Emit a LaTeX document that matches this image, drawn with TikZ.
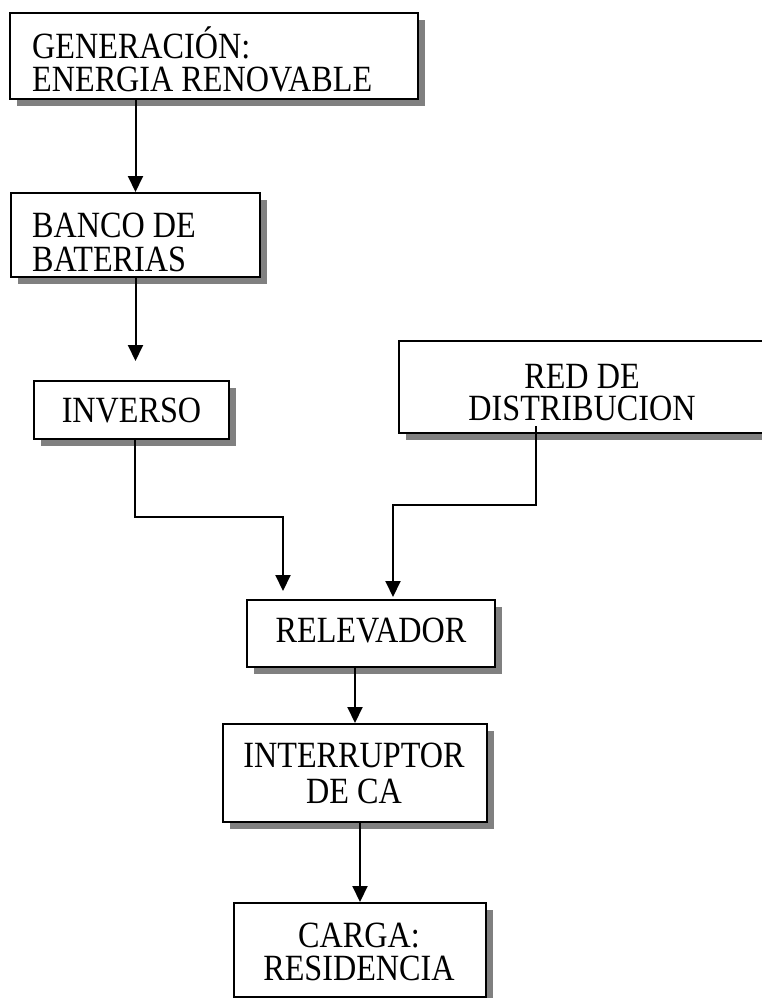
\documentclass[tikz,border=0pt]{standalone}
\usepackage{fontspec}
\setmainfont{Liberation Serif}
\newfontfamily\diagfont{Liberation Serif}[FakeStretch=0.87]
\usetikzlibrary{arrows.meta,shadows}
\definecolor{shadowgray}{HTML}{808080}
\begin{document}
\begin{tikzpicture}[x=1pt,y=-1pt,
  box/.style={draw=black, line width=2pt, fill=white, rectangle, inner sep=0pt,
    general shadow={fill=shadowgray, shadow xshift=7pt, shadow yshift=-7pt}},
  txt/.style={inner sep=0pt, text height=25pt, text depth=0pt,
    font=\diagfont\fontsize{37}{40}\selectfont},
  arr/.style={line width=2pt, -{Triangle[width=15pt,length=16pt]}}]
\useasboundingbox (0,0) rectangle (762,998);
% boxes
\node[box, minimum width=408pt, minimum height=86pt] (gen) at (214,56) {};
\node[box, minimum width=249pt, minimum height=84pt] (banco) at (135.5,235) {};
\node[box, minimum width=195pt, minimum height=58pt] (inverso) at (131.5,410) {};
\node[box, minimum width=366pt, minimum height=92pt] (red) at (582,387) {};
\node[box, minimum width=248pt, minimum height=67pt] (relev) at (371,633.5) {};
\node[box, minimum width=264pt, minimum height=98pt] (interr) at (355,773) {};
\node[box, minimum width=252pt, minimum height=94pt] (carga) at (360,950) {};
% texts
\node[txt, anchor=base west] (gen1) at (32,59) {GENERACIÓN:};
\node[txt, anchor=base west] (gen2) at (32,92) {ENERGIA RENOVABLE};
\node[txt, anchor=base west] (banco1) at (32,237) {BANCO DE};
\node[txt, anchor=base west] (banco2) at (32,271) {BATERIAS};
\node[txt, anchor=base] (inv1) at (131.5,422) {INVERSO};
\node[txt, anchor=base] (red1) at (582,388) {RED DE};
\node[txt, anchor=base] (red2) at (582,420) {DISTRIBUCION};
\node[txt, anchor=base] (rel1) at (371,642) {RELEVADOR};
\node[txt, anchor=base] (int1) at (354,767) {INTERRUPTOR};
\node[txt, anchor=base] (int2) at (354,803) {DE CA};
\node[txt, anchor=base] (car1) at (359,947) {CARGA:};
\node[txt, anchor=base] (car2) at (359,980) {RESIDENCIA};
% free ends
\coordinate (c1) at (135.5,361);
\coordinate (c2) at ([xshift=-88pt,yshift=8pt]relev.north);
\coordinate (c3) at ([xshift=22pt,yshift=2pt]relev.north);
% connectors
\draw[arr] (gen.south -| banco.north) -- (banco.north);
\draw[arr] (banco.south) -- (c1);
\draw[arr] ([xshift=3.5pt]inverso.south) -- ++(0,77) -| (c2);
\draw[arr] ([xshift=-46pt,yshift=8pt]red.south) -- ++(0,79) -| (c3);
\draw[arr] (relev.south -| interr.north) -- (interr.north);
\draw[arr] (interr.south -| carga.north) -- (carga.north);
\end{tikzpicture}
\end{document}
